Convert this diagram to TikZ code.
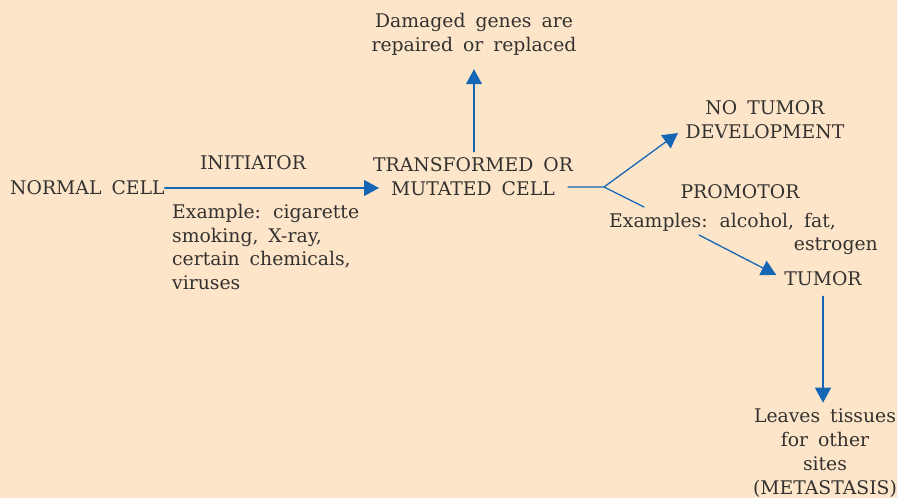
\documentclass[tikz,border=0pt]{standalone}
\usepackage{fontspec}
\setmainfont{DejaVu Serif}
\usetikzlibrary{arrows.meta}
\definecolor{bgpeach}{RGB}{253,229,201}
\definecolor{flowblue}{RGB}{22,102,182}
\definecolor{inkgray}{RGB}{52,50,48}
\newcommand{\lblfont}{\fontsize{18.8}{23.8}\selectfont\spaceskip=10pt plus 2pt\relax}
\tikzset{
  lbl/.style={text=inkgray,inner sep=0pt,align=center,font=\lblfont},
  flowline/.style={draw=flowblue,line width=1.3pt},
  flow/.style={flowline,-{Triangle[length=15pt,width=16pt]}},
}
\begin{document}
\begin{tikzpicture}[x=1pt,y=-1pt,line cap=round,line join=round]
  \fill[bgpeach] (0,0) rectangle (897,498);
  \useasboundingbox (0,0) rectangle (897,498);
  % texts
  \node[lbl,anchor=west] (normal) at (10,188) {NORMAL CELL};
  \node[lbl] (initiator) at (253,163) {INITIATOR};
  \node[lbl,anchor=west,align=left] (initex) at (172,247) {Example: cigarette\\smoking, X-ray,\\certain chemicals,\\viruses};
  \node[lbl] (mutated) at (473,177) {TRANSFORMED OR\\MUTATED CELL};
  \node[lbl] (repaired) at (474,34) {Damaged genes are\\repaired or replaced};
  \node[lbl] (notumor) at (765,120) {NO TUMOR\\DEVELOPMENT};
  \node[lbl] (promotor) at (740,192) {PROMOTOR};
  \node[lbl,anchor=west] (promoex) at (609,222) {Examples: alcohol, fat,};
  \node[lbl,anchor=east] (estrogen) at (878,246) {estrogen};
  \node[lbl] (tumor) at (823,279) {TUMOR};
  \node[lbl] (metastasis) at (825,453) {Leaves tissues\\for other\\sites\\(METASTASIS)};
  % fork points
  \coordinate (cellout) at (568,187);
  \coordinate (fork) at (604,187);
  \coordinate (notip) at (678,133);
  \coordinate (promoend) at (644,207);
  \coordinate (promostart) at (699,235);
  \coordinate (initip) at (379,188);
  % connectors
  \draw[flow] (normal.east) -- (initip);
  \draw[flow,shorten <=6pt,shorten >=14pt] (mutated.north -| repaired.south) -- (repaired.south);
  \draw[flowline] (cellout) -- (fork) -- (promoend);
  \draw[flow] (fork) -- (notip);
  \draw[flow,shorten >=9pt] (promostart) -- (tumor.west);
  \draw[flow,shorten <=10pt,shorten >=6pt] (tumor.south) -- (tumor.south |- metastasis.north);
\end{tikzpicture}
\end{document}
